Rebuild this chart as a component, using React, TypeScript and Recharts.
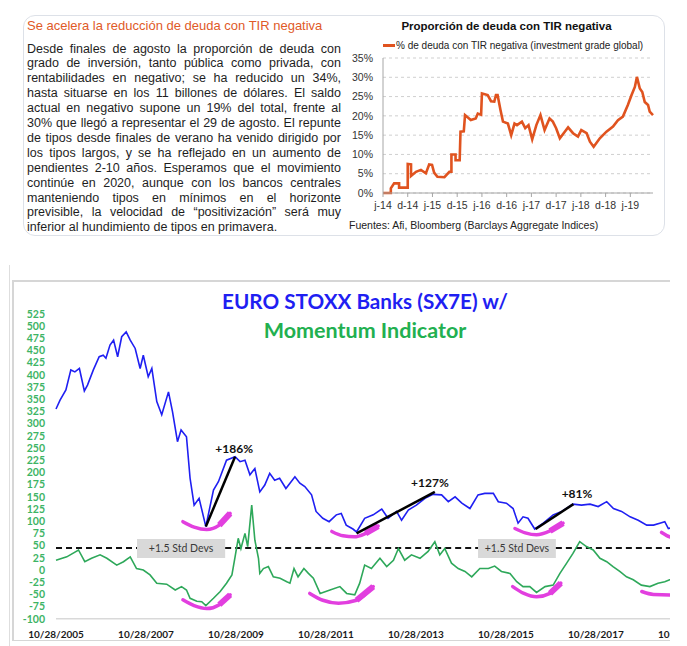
import React from "react";
import {
  LineChart,
  Line,
  XAxis,
  YAxis,
  CartesianGrid,
  ReferenceLine,
  ReferenceArea,
  ReferenceDot,
} from "recharts";

// ---------- top panel: share of negative-yield debt (months since jun-14) ----------
const negMonths = [
  0, 1.9, 1.9, 2.7, 3.9, 3.9, 6, 6, 6.8, 6.8,
  8, 9.2, 10.4, 11.2, 11.9, 12.4, 13.2, 14.9, 16.1, 16.6,
  16.6, 17.6, 17.6, 18.6, 18.8, 19.6, 19.9, 21.3, 22.5, 23,
  23.8, 24, 25.4, 26.2, 27, 27.4, 27.8, 28.5, 29.1, 30.3,
  31.1, 31.9, 32.5, 33.7, 34.5, 35.3, 36.2, 37.2, 38.2, 39.2,
  40.4, 41.2, 42, 42.9, 44.1, 44.9, 46.1, 47.3, 48.1, 49.4,
  50.2, 51.1, 52.6, 54.2, 55.8, 57, 58.2, 59.4, 60.3, 61.1,
  61.6, 62.3, 62.9, 63.5, 64.3, 64.7, 65.5,
];
const negShare = [
  0, 0, 1.2, 2.5, 2.5, 1.4, 1.4, 7.5, 7.4, 4.4,
  5.5, 6.0, 5.1, 7.4, 7.3, 5.3, 4.2, 4.1, 5.5, 5.5,
  10.0, 10.0, 8.5, 8.5, 15.9, 16.0, 20.2, 18.9, 19.3, 20.6,
  20.3, 25.8, 25.4, 23.8, 23.7, 25.4, 25.4, 21.5, 18.5, 18.0,
  15.0, 18.0, 17.6, 18.5, 16.8, 17.6, 13.9, 17.6, 20.2, 16.3,
  19.3, 18.5, 16.8, 14.2, 15.9, 17.0, 15.5, 14.6, 16.3, 15.5,
  13.3, 12.0, 14.2, 15.9, 17.2, 18.9, 19.8, 22.8, 25.4, 27.5,
  30.1, 27.1, 26.2, 23.6, 22.8, 21.1, 20.2,
];
const negTickMonths = [0, 6, 12, 18, 24, 30, 36, 42, 48, 54, 60];
const negTickLabels = ["j-14", "d-14", "j-15", "d-15", "j-16", "d-16", "j-17", "d-17", "j-18", "d-18", "j-19"];
const negPctTicks = [0, 5, 10, 15, 20, 25, 30, 35];

const bodyLines = [
  "Desde finales de agosto la proporción de deuda con",
  "grado de inversión, tanto pública como privada, con",
  "rentabilidades en negativo; se ha reducido un 34%,",
  "hasta situarse en los 11 billones de dólares. El saldo",
  "actual en negativo supone un 19% del total, frente al",
  "30% que llegó a representar el 29 de agosto. El repunte",
  "de tipos desde finales de verano ha venido dirigido por",
  "los tipos largos, y se ha reflejado en un aumento de",
  "pendientes 2-10 años. Esperamos que el movimiento",
  "continúe en 2020, aunque con los bancos centrales",
  "manteniendo tipos en mínimos en el horizonte",
  "previsible, la velocidad de “positivización” será muy",
  "inferior al hundimiento de tipos en primavera.",
];

// ---------- bottom panel: SX7E and momentum (decimal years) ----------
const sxYears = [
  2005.82, 2005.91, 2006.04, 2006.15, 2006.24, 2006.34, 2006.45, 2006.52, 2006.65, 2006.78,
  2006.87, 2006.93, 2007.02, 2007.1, 2007.19, 2007.28, 2007.38, 2007.47, 2007.58, 2007.69,
  2007.76, 2007.87, 2007.95, 2008.06, 2008.17, 2008.32, 2008.41, 2008.52, 2008.6, 2008.72,
  2008.8, 2008.89, 2009.0, 2009.15, 2009.32, 2009.43, 2009.61, 2009.8, 2009.91, 2010.02,
  2010.13, 2010.24, 2010.35, 2010.46, 2010.57, 2010.68, 2010.79, 2010.93, 2011.13, 2011.24,
  2011.35, 2011.5, 2011.6, 2011.75, 2011.89, 2012.05, 2012.16, 2012.27, 2012.42, 2012.5,
  2012.68, 2012.87, 2013.06, 2013.2, 2013.39, 2013.5, 2013.65, 2013.83, 2014.02, 2014.2,
  2014.39, 2014.54, 2014.69, 2014.84, 2015.02, 2015.2, 2015.35, 2015.54, 2015.65, 2015.83,
  2015.98, 2016.09, 2016.2, 2016.31, 2016.46, 2016.65, 2016.87, 2017.06, 2017.31, 2017.5,
  2017.69, 2017.87, 2018.06, 2018.21, 2018.39, 2018.58, 2018.76, 2018.95, 2019.1, 2019.24,
  2019.35, 2019.43, 2019.55,
];
const sxLevels = [
  330, 348, 369, 410, 406, 413, 367, 379, 410, 437,
  440, 434, 461, 471, 437, 478, 488, 471, 454, 413,
  440, 396, 413, 345, 318, 365, 324, 263, 287, 273,
  188, 133, 147, 89, 164, 181, 225, 232, 222, 225,
  195, 208, 160, 174, 198, 184, 188, 167, 191, 178,
  171, 154, 120, 106, 99, 113, 116, 92, 84, 78,
  106, 113, 125, 106, 120, 102, 123, 133, 147, 155,
  154, 140, 150, 137, 126, 154, 157, 157, 140, 137,
  126, 96, 109, 106, 84, 96, 113, 120, 135, 133,
  135, 130, 140, 126, 120, 109, 102, 92, 92, 96,
  99, 85, 88,
];
const momYears = [
  2005.82, 2006.06, 2006.32, 2006.46, 2006.61, 2006.8, 2006.95, 2007.17, 2007.32, 2007.47,
  2007.61, 2007.76, 2007.91, 2008.06, 2008.28, 2008.47, 2008.61, 2008.72, 2008.8, 2008.95,
  2009.06, 2009.15, 2009.32, 2009.47, 2009.61, 2009.73, 2009.8, 2009.87, 2009.93, 2010.02,
  2010.08, 2010.17, 2010.24, 2010.32, 2010.35, 2010.43, 2010.54, 2010.65, 2010.8, 2010.95,
  2011.02, 2011.11, 2011.2, 2011.33, 2011.43, 2011.54, 2011.69, 2011.91, 2012.13, 2012.28,
  2012.46, 2012.57, 2012.68, 2012.83, 2013.02, 2013.17, 2013.32, 2013.43, 2013.57, 2013.72,
  2013.91, 2014.09, 2014.24, 2014.35, 2014.46, 2014.61, 2014.76, 2014.91, 2015.06, 2015.24,
  2015.43, 2015.57, 2015.72, 2015.91, 2016.06, 2016.2, 2016.35, 2016.5, 2016.69, 2016.87,
  2017.02, 2017.17, 2017.31, 2017.46, 2017.61, 2017.76, 2017.91, 2018.06, 2018.2, 2018.35,
  2018.5, 2018.65, 2018.83, 2019.02, 2019.2, 2019.35, 2019.46, 2019.6,
];
const momValues = [
  20, 27, 41, 17, 24, 31, 24, 10, 17, 27,
  3, 0, -10, -27, -29, -41, -34, -41, -58, -64,
  -65, -73, -58, -44, -27, -10, 27, 65, 44, 75,
  48, 133, 61, 24, -7, 3, 7, -14, -17, -24,
  -27, 3, -14, 3, -7, -17, -48, -41, -34, -48,
  -51, -27, 10, 3, 24, 7, 20, 44, 20, 31,
  24, 38, 58, 31, 44, 14, 3, -3, -14, 3,
  3, 8, -3, -7, -24, -34, -34, -46, -34, -31,
  -7, 14, 34, 58, 48, 41, 24, 17, 7, -3,
  -14, -20, -31, -34, -27, -24, -20, -19,
];
const sxTicks = [2005.82, 2007.82, 2009.82, 2011.82, 2013.82, 2015.82, 2017.82, 2019.82];
const sxTickLabels = ["10/28/2005", "10/28/2007", "10/28/2009", "10/28/2011", "10/28/2013", "10/28/2015", "10/28/2017", "10/28/2019"];
const sxValueTicks = [-100, -75, -50, -25, 0, 25, 50, 75, 100, 125, 150, 175, 200, 225, 250, 275, 300, 325, 350, 375, 400, 425, 450, 475, 500, 525];
const stdDevLevel = 45;

// trough highlights (magenta smiles), years and values
const arcYears = [
  [2008.64, 2008.89, 2009.17, 2009.45, 2009.69],
  [2008.64, 2008.89, 2009.17, 2009.45, 2009.69],
  [2011.95, 2012.2, 2012.45, 2012.7, 2012.98],
  [2011.46, 2011.75, 2012.1, 2012.5, 2012.87],
  [2016.02, 2016.25, 2016.5, 2016.8, 2017.09],
  [2015.97, 2016.22, 2016.5, 2016.8, 2017.04],
  [2019.28, 2019.46, 2019.7],
  [2018.84, 2019.1, 2019.46, 2019.7],
];
const arcValues = [
  [99, 88, 83, 92, 116],
  [-61, -73, -79, -71, -51],
  [79, 70, 68, 75, 90],
  [-48, -62, -68, -62, -34],
  [85, 76, 72, 80, 96],
  [-34, -48, -55, -48, -27],
  [77, 68, 64],
  [-44, -50, -51, -48],
];
// arcs whose right end (the thick brush tip) is visible
const arcWithTip = [0, 1, 2, 3, 4, 5];

// rally lines: start year, start level, end year, end level, label
const rallyFrom = [[2009.15, 89], [2012.5, 75], [2016.48, 84]];
const rallyTo = [[2009.8, 232], [2014.24, 160], [2017.32, 135]];
const rallyLabels = ["+186%", "+127%", "+81%"];
const rallyLabelAt = [[2009.78, 248], [2014.13, 178], [2017.4, 156]];

const ORANGE = "#e0531f";
const BLUE = "#1f1ff2";
const GREEN = "#2ea85a";
const MAGENTA = "#e23fdf";
const ARIAL = "'Liberation Sans', Arial, sans-serif";
const LATO = "Lato, 'Open Sans', sans-serif";

const negData = negMonths.map((m, i) => ({ m, v: negShare[i] }));
const sxData = sxYears.map((t, i) => ({ t, v: sxLevels[i] }));
const momData = momYears.map((t, i) => ({ t, v: momValues[i] }));
const arcData = arcYears.map((ys, k) => ys.map((t, i) => ({ t, v: arcValues[k][i] })));
const tipData = arcWithTip.map((k) => arcData[k].slice(-2));

const sxLabel = (v: number) => {
  const i = sxTicks.findIndex((t) => Math.abs(t - v) < 0.01);
  return i >= 0 ? sxTickLabels[i] : "";
};
const negLabel = (v: number) => {
  const i = negTickMonths.indexOf(v);
  return i >= 0 ? negTickLabels[i] : "";
};

const abs = (s: React.CSSProperties): React.CSSProperties => ({ position: "absolute", ...s });

function TopPanel() {
  return (
    <>
      <div
        style={abs({
          left: 23,
          top: 15,
          width: 642,
          height: 221,
          border: "1px solid #dde1e8",
          borderRadius: 12,
          boxSizing: "border-box",
        })}
      />
      <div style={abs({ left: 27, top: 18, fontFamily: ARIAL, fontSize: 13, color: "#e05a28", lineHeight: "16px" })}>
        Se acelera la reducción de deuda con TIR negativa
      </div>
      <div style={abs({ left: 27, top: 41.5, width: 314, fontFamily: ARIAL, fontSize: 12.5, color: "#1e1e1e", lineHeight: "14.9px" })}>
        {bodyLines.map((l, i) => (
          <div
            key={i}
            style={{
              textAlign: "justify",
              textAlignLast: i === bodyLines.length - 1 ? "left" : "justify",
              whiteSpace: "nowrap",
            }}
          >
            {l}
          </div>
        ))}
      </div>

      <div style={abs({ left: 340, top: 20, width: 333, textAlign: "center", fontFamily: ARIAL, fontSize: 11.5, fontWeight: 700, color: "#111" })}>
        Proporción de deuda con TIR negativa
      </div>
      <div style={abs({ left: 383, top: 40, display: "flex", alignItems: "center", fontFamily: ARIAL, fontSize: 10, color: "#222" })}>
        <span style={{ display: "inline-block", width: 12, height: 2.5, background: ORANGE, marginRight: 1 }} />
        <span>% de deuda con TIR negativa (investment grade global)</span>
      </div>
      <div style={abs({ left: 340, top: 0 })}>
        <LineChart width={330} height={240} data={negData} margin={{ top: 58, right: 17, bottom: 27, left: 0 }}>
          <CartesianGrid vertical={false} stroke="#cfcfcf" strokeDasharray="3 3" />
          <XAxis
            type="number"
            dataKey="m"
            domain={[0, 65.5]}
            ticks={negTickMonths}
            interval={0}
            tickFormatter={negLabel}
            height={20}
            axisLine={{ stroke: "#a6a6a6" }}
            tickLine={{ stroke: "#a6a6a6" }}
            tickSize={4}
            tickMargin={5}
            tick={{ fill: "#333", fontSize: 10.5, fontFamily: ARIAL }}
          />
          <YAxis
            type="number"
            domain={[0, 35]}
            ticks={negPctTicks}
            interval={0}
            tickFormatter={(v: number) => `${v}%`}
            width={43}
            axisLine={{ stroke: "#a6a6a6" }}
            tickLine={false}
            tickMargin={4}
            tick={{ fill: "#333", fontSize: 10.5, fontFamily: ARIAL }}
          />
          <Line
            type="linear"
            dataKey="v"
            stroke={ORANGE}
            strokeWidth={2.6}
            dot={false}
            isAnimationActive={false}
          />
        </LineChart>
      </div>
      <div style={abs({ left: 349, top: 219, fontFamily: ARIAL, fontSize: 10.5, color: "#222" })}>
        Fuentes: Afi, Bloomberg (Barclays Aggregate Indices)
      </div>
    </>
  );
}

function BottomPanel() {
  const x0 = 2005.82;
  const x1 = 2020.2;
  return (
    <>
      <div style={abs({ left: 9, top: 265, width: 1, height: 381, background: "#dedede" })} />
      <div style={abs({ left: 12, top: 280, width: 658, height: 1.5, background: "#d6d6d6" })} />
      <div style={abs({ left: 12, top: 280, width: 1.5, height: 360, background: "#d6d6d6" })} />
      <div style={abs({ left: 12, top: 639.5, width: 658, height: 1.5, background: "#d6d6d6" })} />

      <div style={abs({ left: 0, top: 255, width: 670, height: 391, overflow: "hidden" })}>
        <LineChart width={710} height={391} margin={{ top: 58.8, right: 7, bottom: 0, left: 0 }}>
          <XAxis
            type="number"
            dataKey="t"
            domain={[x0, x1]}
            ticks={sxTicks}
            interval={0}
            tickFormatter={sxLabel}
            height={27.2}
            axisLine={{ stroke: "#d9d9d9", strokeWidth: 1.5 }}
            tickLine={false}
            tickMargin={6}
            tick={{ fill: "#1a1a1a", fontSize: 10, fontWeight: 700, fontFamily: LATO }}
          />
          <YAxis
            type="number"
            domain={[-100, 525]}
            ticks={sxValueTicks}
            interval={0}
            width={56}
            axisLine={false}
            tickLine={false}
            tickMargin={5}
            tick={{ fill: "#3db465", fontSize: 10.5, fontWeight: 700, fontFamily: LATO }}
          />

          <ReferenceLine segment={[{ x: x0, y: stdDevLevel }, { x: 2007.62, y: stdDevLevel }]} stroke="#111" strokeWidth={2} strokeDasharray="6 4" />
          <ReferenceLine segment={[{ x: 2009.58, y: stdDevLevel }, { x: 2015.2, y: stdDevLevel }]} stroke="#111" strokeWidth={2} strokeDasharray="6 4" />
          <ReferenceLine segment={[{ x: 2016.93, y: stdDevLevel }, { x: x1, y: stdDevLevel }]} stroke="#111" strokeWidth={2} strokeDasharray="6 4" />
          <ReferenceArea
            x1={2007.62}
            x2={2009.58}
            y1={24.6}
            y2={63.5}
            fill="#d9d9d9"
            fillOpacity={1}
            stroke="none"
            label={{ value: "+1.5 Std Devs", position: "center", fill: "#3a3a3a", fontSize: 10.5, fontFamily: LATO }}
          />
          <ReferenceArea
            x1={2015.2}
            x2={2016.93}
            y1={24.6}
            y2={63.5}
            fill="#d9d9d9"
            fillOpacity={1}
            stroke="none"
            label={{ value: "+1.5 Std Devs", position: "center", fill: "#3a3a3a", fontSize: 10.5, fontFamily: LATO }}
          />

          <Line data={momData} dataKey="v" type="linear" stroke={GREEN} strokeWidth={1.6} dot={false} isAnimationActive={false} />
          <Line data={sxData} dataKey="v" type="linear" stroke={BLUE} strokeWidth={1.6} dot={false} isAnimationActive={false} />

          {arcData.map((d, k) => (
            <Line
              key={`arc${k}`}
              data={d}
              dataKey="v"
              type="monotone"
              stroke={MAGENTA}
              strokeWidth={3.5}
              strokeLinecap="round"
              dot={false}
              isAnimationActive={false}
            />
          ))}
          {tipData.map((d, k) => (
            <Line
              key={`tip${k}`}
              data={d}
              dataKey="v"
              type="linear"
              stroke={MAGENTA}
              strokeWidth={6}
              dot={false}
              isAnimationActive={false}
            />
          ))}

          {rallyFrom.map((p, k) => (
            <ReferenceLine
              key={`r${k}`}
              segment={[{ x: p[0], y: p[1] }, { x: rallyTo[k][0], y: rallyTo[k][1] }]}
              stroke="#000"
              strokeWidth={2.5}
            />
          ))}
          {rallyLabels.map((s, k) => (
            <ReferenceDot
              key={`l${k}`}
              x={rallyLabelAt[k][0]}
              y={rallyLabelAt[k][1]}
              r={0}
              fill="none"
              stroke="none"
              label={{ value: s, position: "center", fill: "#111", fontSize: 12, fontWeight: 700, fontFamily: LATO }}
            />
          ))}
        </LineChart>
      </div>

      <div style={abs({ left: 165, top: 286, width: 400, textAlign: "center", fontFamily: LATO, fontWeight: 700, fontSize: 20.7, color: BLUE, lineHeight: "30px" })}>
        EURO STOXX Banks (SX7E) w/
      </div>
      <div style={abs({ left: 165, top: 315, width: 400, textAlign: "center", fontFamily: LATO, fontWeight: 700, fontSize: 21.5, color: "#22b050", lineHeight: "30px" })}>
        Momentum Indicator
      </div>
    </>
  );
}

export default function App() {
  return (
    <div style={abs({ left: 0, top: 0, width: 687, height: 646, overflow: "hidden", background: "#fff" })}>
      <TopPanel />
      <BottomPanel />
    </div>
  );
}
